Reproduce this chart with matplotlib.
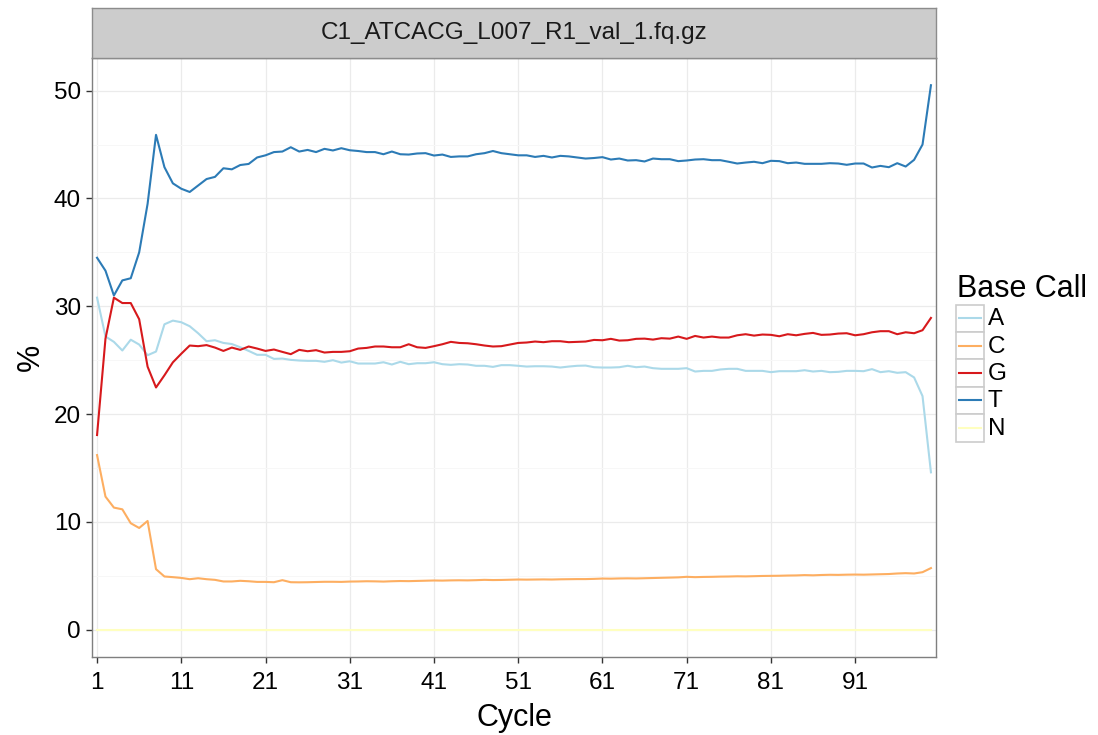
import numpy as np
import matplotlib
matplotlib.use("Agg")
import matplotlib.pyplot as plt
from matplotlib.patches import Rectangle

plt.rcParams['font.family'] = ['Liberation Sans', 'DejaVu Sans']

sample = "C1_ATCACG_L007_R1_val_1.fq.gz"
bases = ["A", "C", "G", "T", "N"]
colors = {"A": "#ABD9E9", "C": "#FDAE61", "G": "#D7191C", "T": "#2C7BB6", "N": "#FFFFBF"}

cycles = np.arange(1, 101)
tick_cycles = [1, 11, 21, 31, 41, 51, 61, 71, 81, 91]

# percent of base calls per cycle
pct_A = [30.8, 27.2, 26.7, 25.9, 26.9, 26.45, 25.46, 25.8, 28.33, 28.67,
         28.52, 28.15, 27.5, 26.76, 26.85, 26.6, 26.5, 26.2, 25.86, 25.5,
         25.5, 25.12, 25.15, 25.03, 24.97, 24.94, 24.94, 24.85, 25.0, 24.78,
         24.9, 24.69, 24.69, 24.69, 24.81, 24.6, 24.85, 24.63, 24.72, 24.72,
         24.81, 24.63, 24.57, 24.63, 24.6, 24.48, 24.48, 24.38, 24.54, 24.54,
         24.48, 24.41, 24.44, 24.44, 24.41, 24.32, 24.41, 24.48, 24.5, 24.35,
         24.32, 24.32, 24.35, 24.48, 24.35, 24.41, 24.26, 24.2, 24.2, 24.2,
         24.26, 23.95, 24.01, 24.01, 24.14, 24.2, 24.2, 24.01, 24.01, 24.01,
         23.89, 23.98, 23.98, 23.98, 24.07, 23.95, 24.01, 23.89, 23.92, 24.01,
         24.01, 23.98, 24.17, 23.89, 23.98, 23.83, 23.89, 23.4, 21.67, 14.6]

pct_C = [16.2, 12.35, 11.33, 11.17, 9.88, 9.44, 10.09, 5.62, 4.94, 4.88,
         4.81, 4.69, 4.78, 4.69, 4.63, 4.48, 4.48, 4.54, 4.5, 4.44,
         4.44, 4.41, 4.6, 4.41, 4.4, 4.41, 4.43, 4.45, 4.45, 4.44,
         4.47, 4.48, 4.5, 4.49, 4.47, 4.5, 4.52, 4.51, 4.53, 4.55,
         4.57, 4.56, 4.58, 4.59, 4.58, 4.6, 4.63, 4.61, 4.62, 4.64,
         4.66, 4.65, 4.66, 4.67, 4.66, 4.68, 4.69, 4.7, 4.7, 4.72,
         4.75, 4.74, 4.76, 4.77, 4.76, 4.78, 4.8, 4.82, 4.84, 4.86,
         4.91, 4.88, 4.9, 4.91, 4.93, 4.94, 4.96, 4.95, 4.97, 4.99,
         5.0, 5.01, 5.03, 5.04, 5.07, 5.05, 5.08, 5.1, 5.09, 5.11,
         5.12, 5.11, 5.13, 5.15, 5.17, 5.22, 5.25, 5.22, 5.34, 5.72]

pct_G = [18.06, 27.0, 30.8, 30.3, 30.3, 28.8, 24.4, 22.47, 23.6, 24.8,
         25.6, 26.36, 26.3, 26.4, 26.17, 25.86, 26.17, 25.96, 26.27, 26.08,
         25.86, 25.99, 25.77, 25.56, 25.96, 25.83, 25.93, 25.71, 25.77, 25.77,
         25.83, 26.08, 26.14, 26.27, 26.27, 26.2, 26.2, 26.48, 26.2, 26.14,
         26.3, 26.48, 26.7, 26.6, 26.57, 26.48, 26.36, 26.27, 26.3, 26.45,
         26.6, 26.64, 26.73, 26.67, 26.76, 26.76, 26.67, 26.7, 26.73, 26.88,
         26.85, 26.98, 26.82, 26.85, 26.98, 27.0, 26.91, 27.04, 27.0, 27.19,
         26.98, 27.25, 27.1, 27.19, 27.1, 27.1, 27.31, 27.41, 27.28, 27.38,
         27.35, 27.22, 27.41, 27.31, 27.44, 27.53, 27.35, 27.38, 27.47, 27.5,
         27.31, 27.41, 27.59, 27.69, 27.69, 27.41, 27.59, 27.5, 27.78, 28.92]

pct_T = [34.5, 33.3, 31.0, 32.4, 32.6, 35.0, 39.5, 45.9, 42.9, 41.4,
         40.9, 40.6, 41.2, 41.8, 42.0, 42.8, 42.7, 43.1, 43.2, 43.8,
         44.0, 44.3, 44.35, 44.75, 44.35, 44.5, 44.3, 44.6, 44.45, 44.66,
         44.47, 44.4, 44.3, 44.3, 44.1, 44.35, 44.1, 44.07, 44.17, 44.2,
         43.98, 44.07, 43.85, 43.9, 43.9, 44.1, 44.2, 44.4, 44.2, 44.1,
         44.0, 44.0, 43.85, 43.95, 43.8, 43.95, 43.9, 43.8, 43.7, 43.75,
         43.83, 43.61, 43.7, 43.52, 43.55, 43.43, 43.7, 43.64, 43.64, 43.46,
         43.52, 43.61, 43.64, 43.55, 43.55, 43.4, 43.24, 43.33, 43.4, 43.27,
         43.49, 43.46, 43.27, 43.33, 43.21, 43.21, 43.21, 43.27, 43.24, 43.12,
         43.24, 43.24, 42.87, 43.02, 42.9, 43.27, 42.96, 43.58, 45.0, 50.5]

pct_N = [0.0, 0.0, 0.0, 0.0, 0.0, 0.0, 0.0, 0.0, 0.0, 0.0,
         0.0, 0.0, 0.0, 0.0, 0.0, 0.0, 0.0, 0.0, 0.0, 0.0,
         0.0, 0.0, 0.0, 0.0, 0.0, 0.0, 0.0, 0.0, 0.0, 0.0,
         0.0, 0.0, 0.0, 0.0, 0.0, 0.0, 0.0, 0.0, 0.0, 0.0,
         0.0, 0.0, 0.0, 0.0, 0.0, 0.0, 0.0, 0.0, 0.0, 0.0,
         0.0, 0.0, 0.0, 0.0, 0.0, 0.0, 0.0, 0.0, 0.0, 0.0,
         0.0, 0.0, 0.0, 0.0, 0.0, 0.0, 0.0, 0.0, 0.0, 0.0,
         0.0, 0.0, 0.0, 0.0, 0.0, 0.0, 0.0, 0.0, 0.0, 0.0,
         0.0, 0.0, 0.0, 0.0, 0.0, 0.0, 0.0, 0.0, 0.0, 0.0,
         0.0, 0.0, 0.0, 0.0, 0.0, 0.0, 0.0, 0.0, 0.0, 0.0]

series = {"A": pct_A, "C": pct_C, "G": pct_G, "T": pct_T, "N": pct_N}

W, H = 1098, 735
fig = plt.figure(figsize=(W / 100, H / 100), dpi=100)
fig.patch.set_facecolor("white")

# panel and facet strip, placed in pixels
pl, pr, pt, pb = 92, 936, 58, 657
ax = fig.add_axes([pl / W, (H - pb) / H, (pr - pl) / W, (pb - pt) / H])
strip = fig.add_axes([pl / W, (H - pt) / H, (pr - pl) / W, 50 / H])

for b in bases:
    ax.plot(cycles, series[b], color=colors[b], lw=1.5, solid_joinstyle="round")

ymax = max(max(v) for v in series.values())
pad = 0.05 * ymax
ax.set_ylim(-pad, ymax + pad)
ax.set_xlim(0.4, 100.6)
ax.set_xticks(tick_cycles)
ax.set_xticklabels([str(c) for c in tick_cycles])
ax.set_yticks([0, 10, 20, 30, 40, 50])
ax.set_yticks([5, 15, 25, 35, 45], minor=True)
ax.grid(True, which="major", color="#EBEBEB", lw=0.9)
ax.grid(True, which="minor", axis="y", color="#F7F7F7", lw=0.7)
ax.set_axisbelow(True)
ax.tick_params(axis="both", which="major", labelsize=17.5, length=4,
               width=1, color="#333333", pad=4, labelcolor="black")
ax.tick_params(axis="x", which="major", pad=7)
ax.tick_params(axis="both", which="minor", length=0)
for s in ax.spines.values():
    s.set_color("#7F7F7F")
    s.set_linewidth(1)
ax.set_xlabel("Cycle", fontsize=22, labelpad=6)
ax.set_ylabel("%", fontsize=22, labelpad=6)

strip.set_facecolor("#CCCCCC")
strip.set_xticks([])
strip.set_yticks([])
for s in strip.spines.values():
    s.set_color("#8C8C8C")
    s.set_linewidth(1)
strip.text(0.5, 0.5, sample, ha="center", va="center", fontsize=17.5,
           color="#1A1A1A", transform=strip.transAxes)

# legend drawn in pixel space
lg = fig.add_axes([0, 0, 1, 1], facecolor="none")
lg.set_xlim(0, W)
lg.set_ylim(H, 0)
lg.axis("off")
lg.text(957, 297, "Base Call", fontsize=22, ha="left", va="baseline")
key_top, key_h = 304.5, 27.4
for i, b in enumerate(bases):
    y0 = key_top + i * key_h
    lg.add_patch(Rectangle((956, y0), 28, key_h, facecolor="white",
                           edgecolor="#CCCCCC", lw=1.2))
    lg.plot([959, 981], [y0 + key_h / 2] * 2, color=colors[b], lw=1.5)
    lg.text(988, y0 + key_h / 2 + 1, b, fontsize=17.5, ha="left", va="center")

fig.savefig("out.png", dpi=100)
